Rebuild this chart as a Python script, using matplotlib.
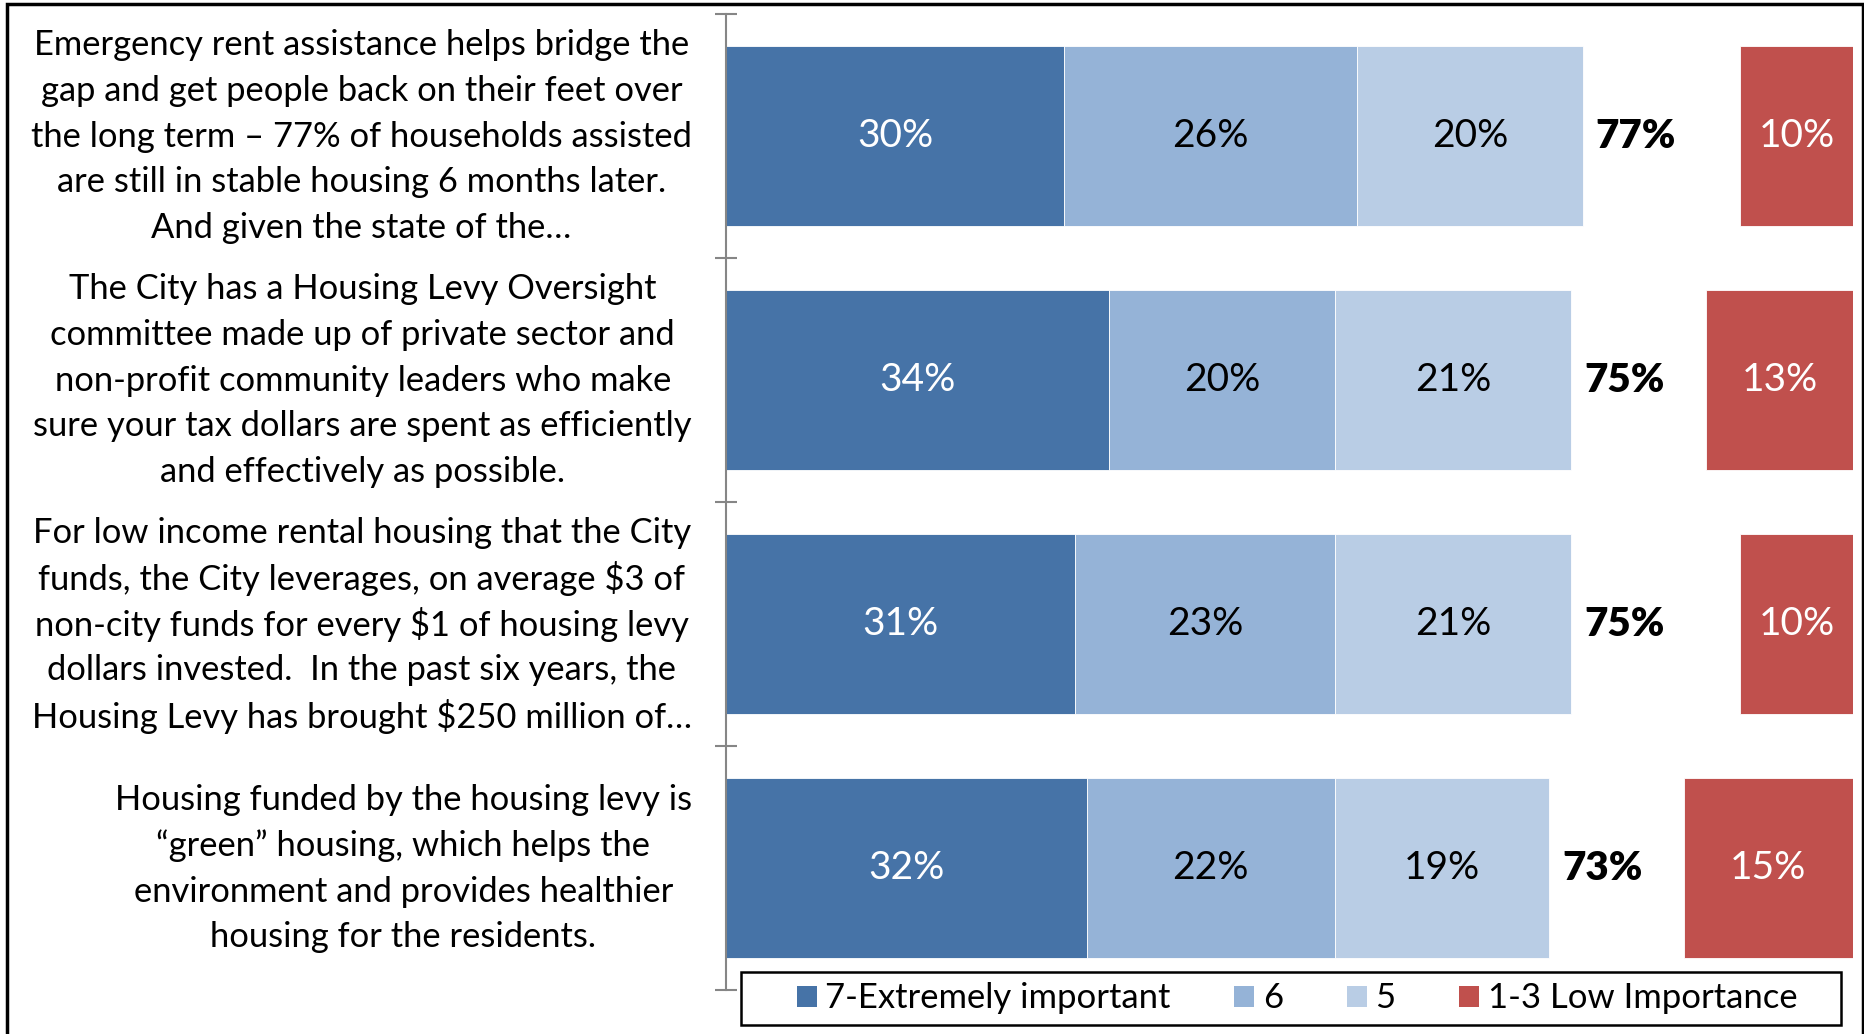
import matplotlib
matplotlib.use("Agg")
import matplotlib.pyplot as plt
from matplotlib.patches import Rectangle, Patch
from matplotlib.transforms import offset_copy

plt.rcParams['font.family'] = ['Lato', 'DejaVu Sans']

categories = [
    "Emergency rent assistance helps bridge the\ngap and get people back on their feet over\nthe long term \u2013 77% of households assisted\nare still in stable housing 6 months later.\nAnd given the state of the\u2026",
    "The City has a Housing Levy Oversight\ncommittee made up of private sector and\nnon-profit community leaders who make\nsure your tax dollars are spent as efficiently\nand effectively as possible.",
    "For low income rental housing that the City\nfunds, the City leverages, on average $3 of\nnon-city funds for every $1 of housing levy\ndollars invested.  In the past six years, the\nHousing Levy has brought $250 million of\u2026",
    "Housing funded by the housing levy is\n\u201cgreen\u201d housing, which helps the\nenvironment and provides healthier\nhousing for the residents.",
]
v7 = [30, 34, 31, 32]
v6 = [26, 20, 23, 22]
v5 = [20, 21, 21, 19]
top3 = [77, 75, 75, 73]
low = [10, 13, 10, 15]
series_names = ["7-Extremely important", "6", "5", "1-3 Low Importance"]

c7 = "#4673A7"
c6 = "#95B3D7"
c5 = "#B9CDE5"
cl = "#C0504D"

W, H = 1865, 1034
fig = plt.figure(figsize=(W / 100, H / 100), dpi=100)
ax = fig.add_axes([726 / W, 1 - 990 / H, (1853 - 726) / W, (990 - 14) / H])

y = list(range(len(categories)))
bh = 0.74
ec = dict(edgecolor="white", linewidth=0.6)
b7 = ax.barh(y, v7, height=bh, color=c7, **ec)
left6 = v7
b6 = ax.barh(y, v6, left=left6, height=bh, color=c6, **ec)
left5 = [a + b for a, b in zip(v7, v6)]
b5 = ax.barh(y, v5, left=left5, height=bh, color=c5, **ec)
ends = [a + b for a, b in zip(left5, v5)]
leftl = [100 - v for v in low]
bl = ax.barh(y, low, left=leftl, height=bh, color=cl, **ec)

fs_bar = 28
for bars, vals, col in [(b7, v7, "white"), (b6, v6, "black"), (b5, v5, "black"), (bl, low, "white")]:
    for rect, v in zip(bars, vals):
        ax.text(rect.get_x() + rect.get_width() / 2, rect.get_y() + rect.get_height() / 2,
                f"{v}%", ha="center", va="center", color=col, fontsize=fs_bar)
for yi, e, t in zip(y, ends, top3):
    ax.text(e + 4.75, yi, f"{t}%", ha="center", va="center", color="black",
            fontsize=29, fontweight="heavy")

ax.set_xlim(0, 100)
ax.set_ylim(len(categories) - 0.5, -0.5)
ax.set_yticks([i - 0.5 for i in range(len(categories) + 1)])
ax.set_yticklabels([])
ax.tick_params(axis="y", direction="inout", length=16, width=1.5, color="#868686")
ax.set_xticks([])
for s in ["top", "right", "bottom"]:
    ax.spines[s].set_visible(False)
ax.spines["left"].set_color("#868686")
ax.spines["left"].set_linewidth(1.5)

# category labels: block right-aligned at a fixed edge, lines centred, even line pitch
fs_cat = 24.8
pitch_pt = 33.0
shift_pt = 1.7
renderer = fig.canvas.get_renderer()
right_px = ax.transAxes.transform((0, 0))[0] - 34
for yi, c in zip(y, categories):
    lines = c.split("\n")
    n = len(lines)
    txts = []
    for i, ln in enumerate(lines):
        dy = ((n - 1) / 2 - i) * pitch_pt + shift_pt
        tr = offset_copy(ax.get_yaxis_transform(), fig=fig, x=0, y=dy, units="points")
        t = ax.text(0, yi, ln, transform=tr, ha="center", va="center_baseline",
                    fontsize=fs_cat, color="black")
        txts.append(t)
    maxw = max(t.get_window_extent(renderer).width for t in txts)
    cx_px = right_px - maxw / 2
    cx_ax = ax.transAxes.inverted().transform((cx_px, 0))[0]
    for t in txts:
        t.set_x(cx_ax)

fs_leg = 24.9
handles = [Patch(facecolor=c7), Patch(facecolor=c6), Patch(facecolor=c5), Patch(facecolor=cl)]
leg = fig.legend(handles, series_names, loc="center", bbox_to_anchor=(1297 / W, 1 - 998.5 / H),
                 ncol=4, fontsize=fs_leg, frameon=False,
                 handlelength=0.58, handleheight=0.58, handletextpad=0.24, columnspacing=1.85,
                 borderpad=0.0)

fig.patches.append(Rectangle((741 / W, 1 - 1025 / H), (1841 - 741) / W, (1025 - 972) / H,
                             transform=fig.transFigure, fill=False, edgecolor="black", linewidth=1.8))
fig.patches.append(Rectangle((7 / W, -0.1), (1863 - 7) / W, 1.1 - 4 / H, transform=fig.transFigure,
                             fill=False, edgecolor="black", linewidth=2.5))

fig.savefig("out.png", dpi=100)
